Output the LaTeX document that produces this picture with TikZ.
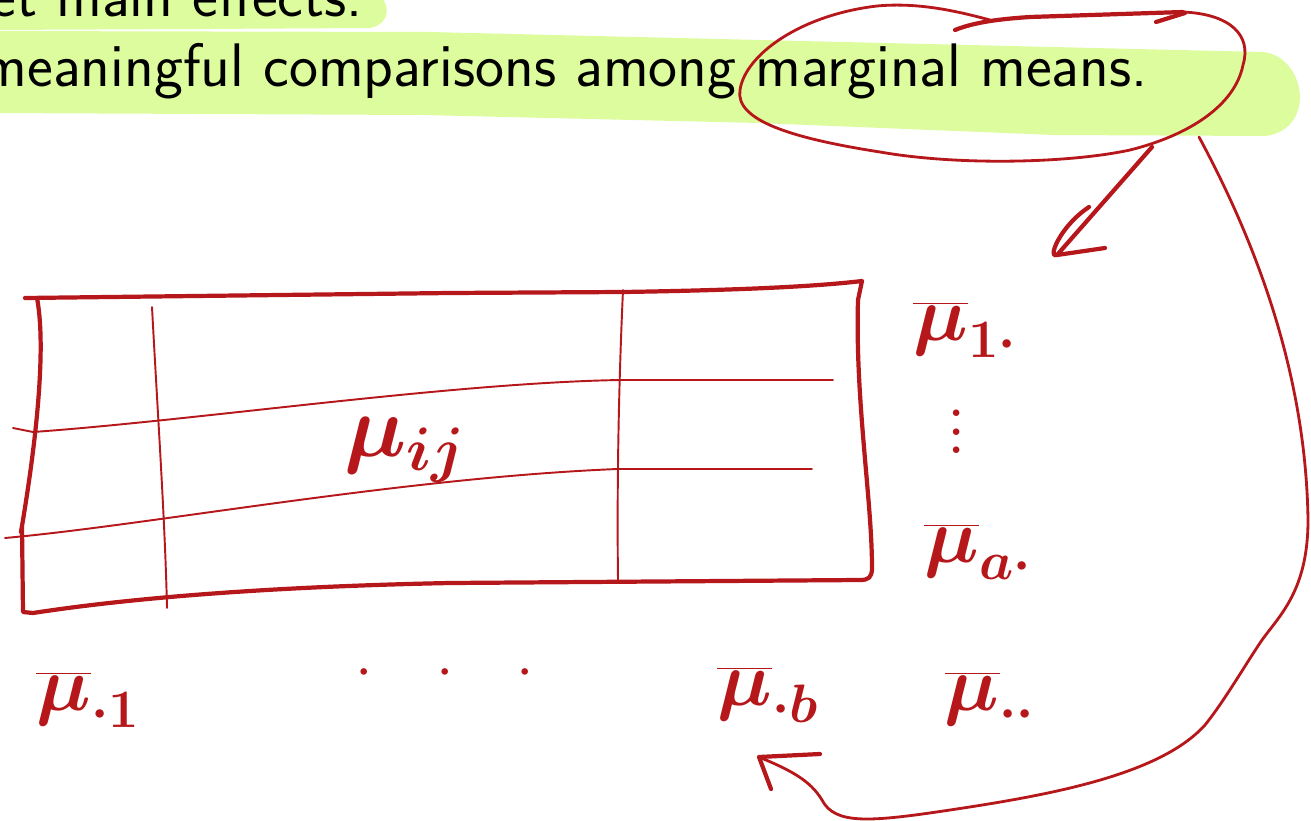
\RequirePackage{fix-cm}
\documentclass[tikz,border=0pt]{standalone}
\usepackage{tikz}
\usetikzlibrary{positioning, calc}

\definecolor{inkred}{RGB}{181,23,26}
\definecolor{hilite}{RGB}{221,252,158}

\begin{document}
\begin{tikzpicture}[x=0.02cm, y=-0.02cm,
    ink/.style={draw=inkred, line cap=round, line join=round},
    inkthick/.style={ink, line width=2.4pt},
    inkmid/.style={ink, line width=1.6pt},
    inkthin/.style={ink, line width=1.1pt},
    hand/.style={text=inkred, inner sep=0pt, font=\fontsize{44}{52}\selectfont\boldmath}]
    \useasboundingbox (0,0) rectangle (1311,821);

    % highlighter strokes
    \fill[hilite] (-10,-10) -- (372,-10) .. controls (392,0) and (392,24) .. (370,28) -- (200,29) -- (-10,30) -- cycle;
    \fill[hilite] (-10,31) -- (430,32) -- (843,42) -- (1262,52) .. controls (1305,55) and (1318,128) .. (1266,136)
      -- (1054,135) -- (759,123) -- (422,115) -- (-10,113) -- cycle;

    \node [anchor=base east, inner sep=0pt, font=\sffamily\fontsize{35}{42}\selectfont] (line1) at (363,17) {et main effects.};
    \node [anchor=base east, inner sep=0pt, font=\sffamily\fontsize{35}{42}\selectfont] (line2) at (1148,87)
      {meaningful comparisons among marginal means.};

    % circle round "marginal means."
    \draw[inkmid] (1183,12) .. controls (1230,14) and (1252,35) .. (1243,65) .. controls (1235,105) and (1190,135) .. (1130,150)
      .. controls (1070,163) and (960,166) .. (880,152) .. controls (790,138) and (735,120) .. (740,90)
      .. controls (745,55) and (800,15) .. (877,6) .. controls (920,2) and (960,12) .. (990,20);
    \draw[inkthick] (955,30) .. controls (975,22) and (1000,19) .. (1030,17) -- (1183,12);
    \draw[inkthick] (1156,22) -- (1185,13);

    \coordinate (arrAstart) at (1152,147);
    \coordinate (arrAtip) at (1057,255);
    \coordinate (arrBstart) at (1199,137);
    \coordinate (arrBtip) at (759,757);

    % table
    \draw[inkthick] (25,298) -- (450,293) -- (623,292) .. controls (750,290) and (820,286) .. (862,281)
      -- (858,300) .. controls (855,400) and (872,500) .. (872,568) .. controls (872,578) and (868,580) .. (860,580)
      -- (450,583) .. controls (300,586) and (150,595) .. (33,613) -- (23,612) -- (22,527);
    \draw[inkthick] (37,298) .. controls (45,340) and (40,420) .. (21,532);
    \draw[inkthin] (152,307) .. controls (158,420) and (165,520) .. (167,608);
    \draw[inkthin] (623,290) .. controls (618,400) and (617,500) .. (618,580);
    \draw[inkthin] (13,428) -- (33,432) .. controls (200,420) and (450,383) .. (620,380) -- (833,380);
    \draw[inkthin] (5,538) .. controls (150,525) and (400,478) .. (617,469) -- (812,469);

    \node [hand, font=\fontsize{50}{60}\selectfont\boldmath] (muij) at (405,450) {$\mu_{ij}$};

    % marginal means
    \node [hand] (mrow1) at (965,330) {$\overline{\mu}_{1\cdot}$};
    \node [hand, align=center, font=\fontsize{26}{10.5}\selectfont\bfseries] (mvdots) at (957,432) {.\\.\\.};
    \node [hand] (mrowa) at (978,552) {$\overline{\mu}_{a\cdot}$};
    \node [hand] (mall) at (990,700) {$\overline{\mu}_{\cdot\cdot}$};
    \node [hand] (mcol1) at (88,700) {$\overline{\mu}_{\cdot 1}$};
    \node [hand, font=\fontsize{24}{28}\selectfont\boldmath] (mdots) at (445,673) {$\cdot\hskip 32pt\cdot\hskip 32pt\cdot$};
    \node [hand] (mcolb) at (768,695) {$\overline{\mu}_{\cdot b}$};

    % arrows
    \draw[inkthick] (arrAstart) -- (arrAtip);
    \draw[inkthick] (arrAtip) ++(32,-48) .. controls ++(-30,20) and ++(-10,5) .. (arrAtip) -- ++(48,-7);
    \draw[inkmid] (arrBstart) .. controls (1260,250) and (1306,380) .. (1308,520)
      .. controls (1308,590) and (1280,615) .. (1262,640) .. controls (1245,665) and (1225,700) .. (1205,725)
      .. controls (1160,775) and (1050,795) .. (950,810) .. controls (870,822) and (835,825) .. (822,800)
      .. controls (810,780) and (790,770) .. (arrBtip);
    \draw[inkthick] (arrBtip) ++(61,-3) -- (arrBtip) -- ++(12,32);
\end{tikzpicture}
\end{document}
